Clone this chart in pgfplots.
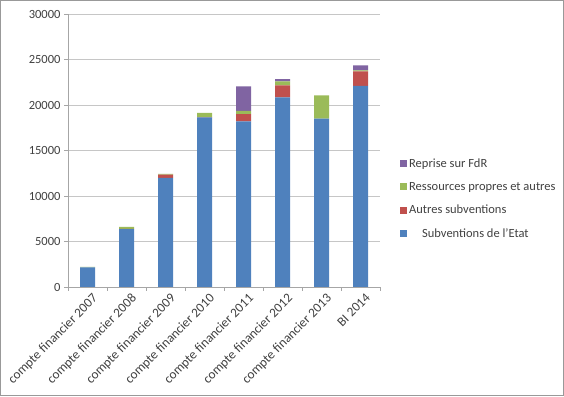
\documentclass[border=0pt]{standalone}
\usepackage{fontspec}
\setmainfont{Carlito}
\usepackage{pgfplots}
\pgfplotsset{compat=1.18}
\definecolor{cBlue}{HTML}{4F81BD}
\definecolor{cRed}{HTML}{C0504D}
\definecolor{cGreen}{HTML}{9BBB59}
\definecolor{cPurple}{HTML}{8064A2}
\definecolor{cText}{HTML}{404040}
\begin{document}
\begin{tikzpicture}[x=1pt,y=1pt]
\path[use as bounding box] (0,0) rectangle (564,396);
\begin{axis}[
  at={(68pt,109pt)}, anchor=south west, scale only axis,
  width=312pt, height=273pt,
  ybar stacked, bar width=15pt,
  xmin=-0.5, xmax=7.5, ymin=0, ymax=30000,
  ytick={0,5000,...,30000},
  scaled y ticks=false,
  /pgf/number format/1000 sep={},
  /pgf/number format/assume math mode=true,
  xtick={0,...,7},
  xticklabels={compte financier 2007,compte financier 2008,compte financier 2009,compte financier 2010,compte financier 2011,compte financier 2012,compte financier 2013,BI 2014},
  x tick label style={rotate=45, anchor=north east, font=\fontsize{13.2}{14}\selectfont, text=cText, inner sep=1pt, xshift=3pt, yshift=-3pt},
  y tick label style={font=\fontsize{12.5}{13}\selectfont, text=cText},
  major x tick style={draw=none},
  minor xtick={-0.5,0.5,...,7.5},
  minor x tick style={draw=gray!70},
  tick align=outside,
  major tick length=4pt, minor tick length=4pt,
  y tick style={draw=gray!70},
  axis x line*=bottom, axis y line*=left,
  axis line style={draw=gray!70,-},
  ymajorgrids, grid style={draw=gray!45, line width=0.8pt},
  reverse legend,
  legend cell align=left,
  legend style={at={(1.064,0.478)}, anchor=north west, draw=none, fill=none,
    font=\fontsize{12.5}{13}\selectfont, text=cText, row sep=9.3pt, inner sep=0pt},
  legend image code/.code={\fill[#1] (0pt,-3.5pt) rectangle (7pt,3.5pt);},
]
\addplot[fill=cBlue, draw=none] coordinates {(0,2150) (1,6350) (2,12000) (3,18650) (4,18200) (5,20850) (6,18500) (7,22100)};
\addplot[fill=cRed, draw=none] coordinates {(0,0) (1,50) (2,350) (3,30) (4,800) (5,1300) (6,0) (7,1600)};
\addplot[fill=cGreen, draw=none] coordinates {(0,50) (1,200) (2,80) (3,450) (4,350) (5,450) (6,2550) (7,100)};
\addplot[fill=cPurple, draw=none] coordinates {(0,0) (1,0) (2,0) (3,0) (4,2700) (5,250) (6,0) (7,550)};
\legend{\hspace{13pt}Subventions de l'Etat, Autres subventions, Ressources propres et autres, Reprise sur FdR}
\end{axis}
\draw[gray!80] (0.5,0.5) rectangle (563.5,395.5);
\end{tikzpicture}
\end{document}
